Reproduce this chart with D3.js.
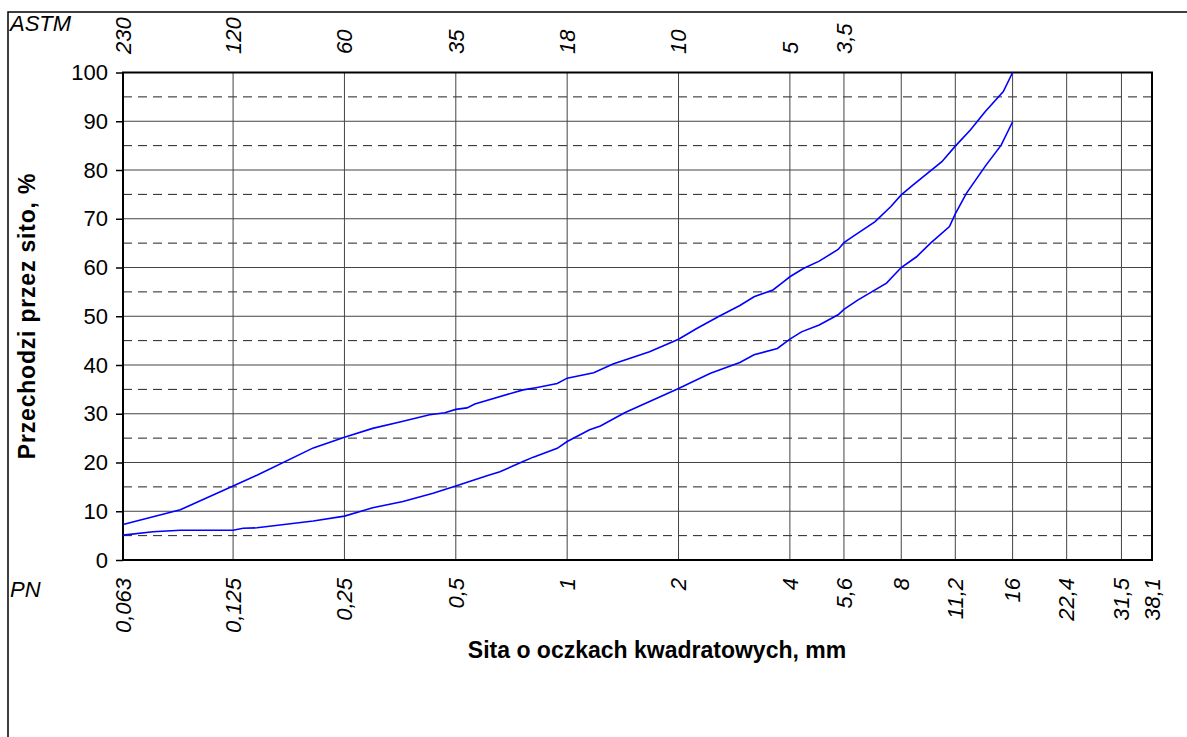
<!DOCTYPE html>
<html>
<head>
<meta charset="utf-8">
<script src="https://cdn.jsdelivr.net/npm/d3@7"></script>
<style>
  body { margin: 0; background: #fff; }
  text { font-family: "Liberation Sans", Arial, sans-serif; }
</style>
</head>
<body>
<div id="graph"></div>
<script>

// sieve sizes (PN, mm) and their labels
var pnSizes = [0.063, 0.125, 0.25, 0.5, 1, 2, 4, 5.6, 8, 11.2, 16, 22.4, 31.5, 38.1];
var pnLabels = ["0,063", "0,125", "0,25", "0,5", "1", "2", "4", "5,6", "8", "11,2", "16", "22,4", "31,5", "38,1"];

// ASTM mesh numbers matching the same sieves
var astmSizes = [0.063, 0.125, 0.25, 0.5, 1, 2, 4, 5.6];
var astmLabels = ["230", "120", "60", "35", "18", "10", "5", "3,5"];

var yTicks = [0, 10, 20, 30, 40, 50, 60, 70, 80, 90, 100];
var yDashed = [5, 15, 25, 35, 45, 55, 65, 75, 85, 95];

// upper grading limit
var upperSizes = [0.063, 0.09, 0.125, 0.145, 0.206, 0.25, 0.298, 0.353, 0.425, 0.467, 0.5, 0.536, 0.563,
  0.76, 0.83, 0.94, 1, 1.18, 1.33, 1.67, 2, 2.24, 2.56, 2.93, 3.2, 3.6, 3.85, 4, 4.35, 4.8, 5.4, 5.6,
  5.9, 6.8, 7.5, 8, 8.6, 10.3, 11.2, 12.3, 13.5, 15.1, 16];
var upperPass = [7.3, 10.3, 15.2, 17.4, 23, 25.2, 27, 28.3, 29.8, 30.2, 30.9, 31.2, 32,
  34.9, 35.4, 36.2, 37.3, 38.4, 40.2, 42.7, 45.3, 47.5, 49.9, 52.2, 54, 55.4, 57.1, 58.1, 59.8, 61.3, 63.7, 65.1,
  66.3, 69.4, 72.5, 74.9, 76.9, 81.7, 84.9, 88.2, 92, 96.1, 100];

// lower grading limit
var lowerSizes = [0.063, 0.076, 0.09, 0.125, 0.133, 0.145, 0.206, 0.25, 0.298, 0.36, 0.434, 0.5, 0.56, 0.607,
  0.658, 0.76, 0.81, 0.94, 1, 1.15, 1.23, 1.43, 2, 2.44, 2.93, 3.2, 3.7, 4, 4.3, 4.8, 5.4, 5.6, 6.1, 7.3,
  8, 8.8, 9.6, 10.8, 11.2, 12, 13.5, 14.9, 16];
var lowerPass = [5.1, 5.8, 6.1, 6.1, 6.5, 6.6, 8, 9, 10.7, 12, 13.7, 15.2, 16.4, 17.3,
  18.1, 20.2, 21.1, 22.9, 24.3, 26.7, 27.5, 30.2, 35.2, 38.3, 40.5, 42.1, 43.4, 45.3, 46.8, 48.2, 50.3, 51.4, 53.3, 56.8,
  60, 62.2, 65, 68.4, 71, 75.2, 80.8, 85.1, 89.9];

var W = 1187, H = 737;
var plotL = 123, plotR = 1152, plotT = 72.5, plotB = 560;

var svg = d3.select("#graph")
  .append("svg")
    .attr("width", W)
    .attr("height", H);

// outer frame
svg.append("rect")
  .attr("x", 8).attr("y", 12)
  .attr("width", 1250).attr("height", 900)
  .attr("fill", "none")
  .attr("stroke", "#000")
  .attr("stroke-width", 1.5);

var x = d3.scaleLog()
  .domain([0.063, 38.1])
  .range([plotL, plotR]);

var y = d3.scaleLinear()
  .domain([0, 100])
  .range([plotB, plotT]);

// horizontal grid
svg.append("g")
  .selectAll("line")
  .data(yTicks.slice(1, -1))
  .join("line")
    .attr("x1", plotL).attr("x2", plotR)
    .attr("y1", function(d) { return y(d) })
    .attr("y2", function(d) { return y(d) })
    .attr("stroke", "#444")
    .attr("stroke-width", 1);

svg.append("g")
  .selectAll("line")
  .data(yDashed)
  .join("line")
    .attr("x1", plotL).attr("x2", plotR)
    .attr("y1", function(d) { return y(d) })
    .attr("y2", function(d) { return y(d) })
    .attr("stroke", "#222")
    .attr("stroke-width", 1)
    .attr("stroke-dasharray", "9,6");

// vertical grid
svg.append("g")
  .selectAll("line")
  .data(pnSizes.slice(1, -1))
  .join("line")
    .attr("x1", function(d) { return x(d) })
    .attr("x2", function(d) { return x(d) })
    .attr("y1", plotT).attr("y2", plotB)
    .attr("stroke", "#444")
    .attr("stroke-width", 1);

// plot border
svg.append("rect")
  .attr("x", plotL).attr("y", plotT)
  .attr("width", plotR - plotL).attr("height", plotB - plotT)
  .attr("fill", "none")
  .attr("stroke", "#000")
  .attr("stroke-width", 2);

// y axis
var yAxis = svg.append("g")
  .attr("transform", "translate(" + plotL + ",0)")
  .call(d3.axisLeft(y).tickValues(yTicks).tickSize(7).tickPadding(8));
yAxis.select(".domain").remove();
yAxis.selectAll("line").attr("stroke", "#000").attr("stroke-width", 1.5);
yAxis.selectAll("text")
  .attr("font-size", 22)
  .attr("fill", "#000")
  .style("font-family", "'Liberation Sans', Arial, sans-serif");

// bottom PN labels
svg.append("g")
  .selectAll("text")
  .data(pnSizes)
  .join("text")
    .attr("transform", function(d) { return "translate(" + x(d) + ",578) rotate(-90)" })
    .attr("dy", "0.35em")
    .attr("text-anchor", "end")
    .attr("font-size", 22)
    .attr("font-style", "italic")
    .text(function(d, i) { return pnLabels[i] });

// top ASTM labels
svg.append("g")
  .selectAll("text")
  .data(astmSizes)
  .join("text")
    .attr("transform", function(d) { return "translate(" + x(d) + ",54) rotate(-90)" })
    .attr("dy", "0.35em")
    .attr("text-anchor", "start")
    .attr("font-size", 22)
    .attr("font-style", "italic")
    .text(function(d, i) { return astmLabels[i] });

svg.append("text")
  .attr("x", 10).attr("y", 31)
  .attr("font-size", 22)
  .attr("font-style", "italic")
  .text("ASTM");

svg.append("text")
  .attr("x", 10).attr("y", 597)
  .attr("font-size", 22)
  .attr("font-style", "italic")
  .text("PN");

// curves
var line = d3.line()
  .x(function(d) { return x(d[0]) })
  .y(function(d) { return y(d[1]) });

[[upperSizes, upperPass], [lowerSizes, lowerPass]].forEach(function(s) {
  svg.append("path")
    .datum(d3.zip(s[0], s[1]))
    .attr("fill", "none")
    .attr("stroke", "#0000ff")
    .attr("stroke-width", 1.6)
    .attr("d", line);
});

// axis titles
svg.append("text")
  .attr("x", 657).attr("y", 658)
  .attr("text-anchor", "middle")
  .attr("font-size", 23)
  .attr("font-weight", "bold")
  .text("Sita o oczkach kwadratowych, mm");

svg.append("text")
  .attr("transform", "translate(35,316) rotate(-90)")
  .attr("text-anchor", "middle")
  .attr("font-size", 23)
  .attr("font-weight", "bold")
  .attr("letter-spacing", 0.8)
  .text("Przechodzi przez sito, %");

</script>
</body>
</html>
